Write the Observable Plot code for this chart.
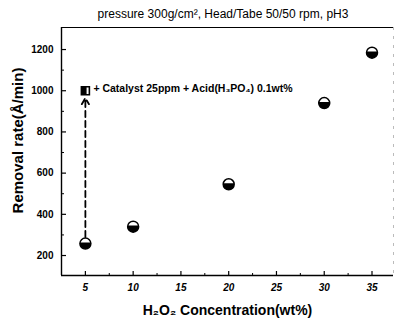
<!DOCTYPE html>
<html><head><meta charset="utf-8">
<script src="https://cdn.jsdelivr.net/npm/d3@7"></script>
<script src="https://cdn.jsdelivr.net/npm/@observablehq/plot@0.6"></script>
<style>
body{margin:0;background:#fff;font-family:Arial,"Liberation Sans",sans-serif;}
#chart{position:relative;width:394px;height:322px;}
#title{position:absolute;left:0;top:7px;width:394px;text-align:center;font-size:12px;line-height:14px;padding-left:52px;box-sizing:border-box;}
</style></head><body>
<div id="chart"><div id="title">pressure 300g/cm², Head/Tabe 50/50 rpm, pH3</div></div>
<script>
const concentration = [5, 10, 20, 30, 35];
const removalRate = [258, 340, 546, 940, 1185];
const catalystConc = [5];
const catalystRate = [1000];
const catalystLabel = "+ Catalyst 25ppm + Acid(H₃PO₄) 0.1wt%";
const arrowConc = [5];
const arrowFromRate = [290];
const arrowToRate = [965];
const xDomain = [2.5, 37.25];
const yDomain = [103, 1307];
const xTicks = [5, 10, 15, 20, 25, 30, 35];
const xMinor = [7.5, 12.5, 17.5, 22.5, 27.5, 32.5];
const yTicks = [200, 400, 600, 800, 1000, 1200];
const yMinor = [300, 500, 700, 900, 1100];

const base = concentration.map((c, i) => ({c, r: removalRate[i]}));
const cat = catalystConc.map((c, i) => ({c, r: catalystRate[i]}));
const arr = arrowConc.map((c, i) => ({c, r1: arrowFromRate[i], r2: arrowToRate[i]}));

const lowerPart = {draw(ctx, size){const r = Math.sqrt(size/Math.PI); const a = Math.asin(0.2); ctx.moveTo(r*Math.cos(a), -r*0.2); ctx.arc(0,0,r,-a,Math.PI+a); ctx.closePath();}};
const leftPartSquare = {draw(ctx, size){const s = Math.sqrt(size)/2; ctx.moveTo(-s,-s); ctx.lineTo(s*0.3,-s); ctx.lineTo(s*0.3,s); ctx.lineTo(-s,s); ctx.closePath();}};
const tickRight = {draw(ctx, size){const L = Math.sqrt(size/Math.PI); ctx.moveTo(0,0); ctx.lineTo(L,0);}};
const tickUp = {draw(ctx, size){const L = Math.sqrt(size/Math.PI); ctx.moveTo(0,0); ctx.lineTo(0,-L);}};

const chart = Plot.plot({
  width: 394, height: 322,
  marginLeft: 61, marginRight: 1, marginTop: 27, marginBottom: 47,
  style: {fontFamily: "Arial, 'Liberation Sans', sans-serif", background: "transparent"},
  x: {domain: xDomain},
  y: {domain: yDomain},
  marks: [
    Plot.ruleY([yDomain[1]], {stroke: "#000", strokeWidth: 1.2}),
    Plot.ruleX([xDomain[1]], {stroke: "#bbb", strokeWidth: 1, strokeDasharray: "3,6"}),
    Plot.ruleX([xDomain[0]], {stroke: "#000", strokeWidth: 1.4}),
    Plot.ruleY([yDomain[0]], {stroke: "#000", strokeWidth: 1.4}),
    Plot.dot(yTicks, {x: () => xDomain[0], y: d => d, symbol: tickRight, r: 4.5, stroke: "#000", strokeWidth: 1.2, fill: "none"}),
    Plot.dot(yMinor, {x: () => xDomain[0], y: d => d, symbol: tickRight, r: 2.5, stroke: "#000", strokeWidth: 1, fill: "none"}),
    Plot.dot(xTicks, {x: d => d, y: () => yDomain[0], symbol: tickUp, r: 4.5, stroke: "#000", strokeWidth: 1.2, fill: "none"}),
    Plot.dot(xMinor, {x: d => d, y: () => yDomain[0], symbol: tickUp, r: 2.5, stroke: "#000", strokeWidth: 1, fill: "none"}),
    Plot.axisX({ticks: xTicks, tickSize: 0, tickPadding: 8, fontSize: 10, fontWeight: "bold", fontStyle: "italic", label: null}),
    Plot.axisY({ticks: yTicks, tickSize: 0, tickPadding: 8, tickFormat: d => String(d), fontSize: 10, fontWeight: "bold", label: null}),
    Plot.text(["H₂O₂ Concentration(wt%)"], {frameAnchor: "bottom", lineAnchor: "middle", textAnchor: "middle", dy: 35, fontSize: 14, fontWeight: "bold"}),
    Plot.text(["Removal rate(Å/min)"], {frameAnchor: "left", textAnchor: "middle", lineAnchor: "middle", dx: -43, dy: -11, rotate: -90, fontSize: 15, fontWeight: "bold"}),
    Plot.arrow(arr, {x1: "c", y1: "r1", x2: "c", y2: "r2", stroke: "#000", strokeWidth: 1.8, strokeDasharray: "6,4", headLength: 6}),
    Plot.dot(base, {x: "c", y: "r", r: 5.5, fill: "#fff", stroke: "#000", strokeWidth: 1.5}),
    Plot.dot(base, {x: "c", y: "r", r: 5.5, symbol: lowerPart, fill: "#000", stroke: "none"}),
    Plot.dot(cat, {x: "c", y: "r", r: 4.5, symbol: "square", fill: "#fff", stroke: "#000", strokeWidth: 1.6}),
    Plot.dot(cat, {x: "c", y: "r", r: 4.5, symbol: leftPartSquare, fill: "#000", stroke: "none"}),
    Plot.text(cat, {x: "c", y: "r", text: () => catalystLabel, textAnchor: "start", dx: 8, dy: -2, fontSize: 10.5, fontWeight: "bold"})
  ]
});
document.getElementById("chart").appendChild(chart);
</script></body></html>
